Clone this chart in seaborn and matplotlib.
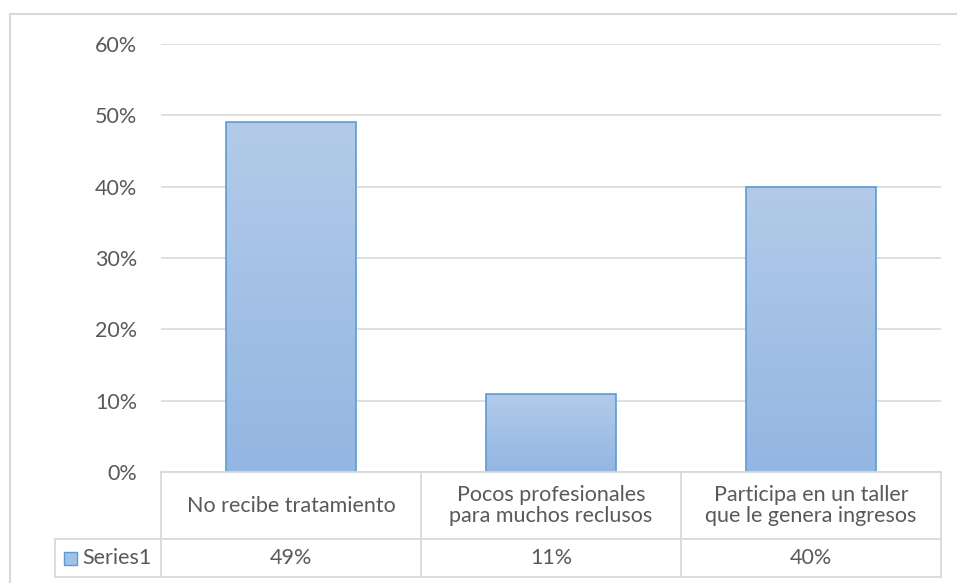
import matplotlib.pyplot as plt
import numpy as np
import seaborn as sns
from matplotlib.lines import Line2D
from matplotlib.patches import Rectangle

# datos del grafico
categorias = ["No recibe tratamiento",
              "Pocos profesionales\npara muchos reclusos",
              "Participa en un taller\nque le genera ingresos"]
valores = [0.49, 0.11, 0.40]
serie = "Series1"
ticks_y = [0.0, 0.1, 0.2, 0.3, 0.4, 0.5, 0.6]

W, H = 957, 583
gris_texto = "#595959"
gris_linea = "#d9d9d9"
azul_borde = "#5b9bd5"
fs = 15.5

sns.set_style("white")
plt.rcParams["font.family"] = ["Lato", "DejaVu Sans"]

fig = plt.figure(figsize=(W / 100, H / 100), dpi=100)

# area del grafico en pixeles: x 161-941, y 44-472
x0, x1, ytop, ybot = 161, 941, 44, 472
ax = fig.add_axes([x0 / W, 1 - ybot / H, (x1 - x0) / W, (ybot - ytop) / H])

sns.barplot(x=categorias, y=valores, ax=ax, width=0.5,
            color="#a3c1e6", edgecolor=azul_borde, linewidth=1.2,
            saturation=1, zorder=3)

# degradado vertical dentro de cada barra
grad = np.linspace(0, 1, 256).reshape(-1, 1)
cmap = sns.blend_palette(["#93b6e2", "#b3cbe9"], as_cmap=True)
for p in ax.patches:
    x, y = p.get_x(), p.get_y()
    w, h = p.get_width(), p.get_height()
    im = ax.imshow(grad, extent=[x, x + w, y, y + h], origin="lower",
                   cmap=cmap, aspect="auto", zorder=2.5)
    im.set_clip_path(p)
    p.set_facecolor("none")
    p.set_zorder(4)

ax.set_xlim(-0.5, len(categorias) - 0.5)
ax.set_ylim(0, 0.6)
ax.set_yticks(ticks_y)
ax.set_yticklabels([f"{int(round(t * 100))}%" for t in ticks_y],
                   color=gris_texto, fontsize=fs)
ax.tick_params(axis="y", length=0, pad=17)
ax.set_xticks([])
ax.set_xlabel("")
ax.set_ylabel("")
ax.yaxis.grid(True, color=gris_linea, linewidth=1.2, zorder=0)
ax.set_axisbelow(True)
for s in ax.spines.values():
    s.set_visible(False)

# tabla de datos bajo el grafico (coordenadas en pixeles)
def px_line(xa, ya, xb, yb, color=gris_linea, lw=1.3):
    fig.add_artist(Line2D([xa / W, xb / W], [1 - ya / H, 1 - yb / H],
                          color=color, linewidth=lw))

fila1, fila2, fila3 = 472, 539, 577
col_x = [x0 + i * (x1 - x0) / len(categorias) for i in range(len(categorias) + 1)]

px_line(x0, fila1, x1, fila1)
px_line(55, fila2, x1, fila2)
px_line(55, fila3, x1, fila3)
px_line(55, fila2, 55, fila3)
for cx in col_x:
    px_line(cx, fila1, cx, fila3)

for i, cat in enumerate(categorias):
    cx = (col_x[i] + col_x[i + 1]) / 2
    fig.text(cx / W, 1 - (fila1 + fila2) / 2 / H, cat, ha="center",
             va="center", color=gris_texto, fontsize=fs, linespacing=1.1)
    fig.text(cx / W, 1 - (fila2 + fila3) / 2 / H, f"{int(round(valores[i] * 100))}%",
             ha="center", va="center", color=gris_texto, fontsize=fs)

# clave de leyenda y nombre de la serie
fig.add_artist(Rectangle((64 / W, 1 - 565 / H), 13 / W, 13 / H,
                         facecolor="#a3c1e6", edgecolor=azul_borde,
                         linewidth=1, transform=fig.transFigure))
fig.text(82 / W, 1 - (fila2 + fila3) / 2 / H, serie, ha="left", va="center",
         color=gris_texto, fontsize=fs)

# borde exterior del grafico
px_line(10, 14, W, 14, lw=1.5)
px_line(10, 14, 10, H, lw=1.5)

plt.savefig("out.png", dpi=100)
